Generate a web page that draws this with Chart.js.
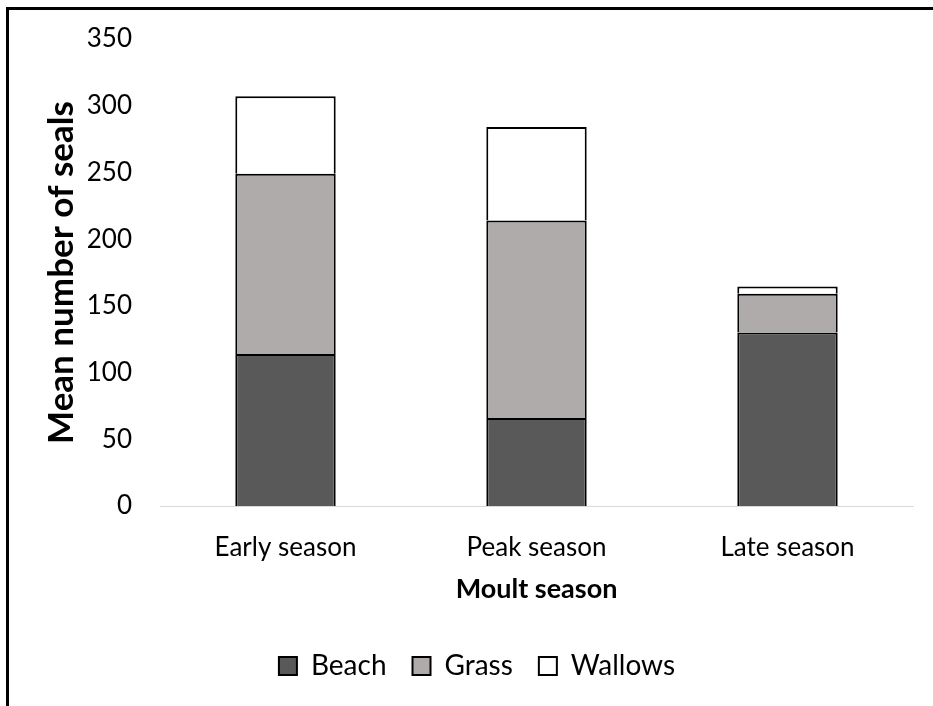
<!DOCTYPE html>
<html>
<head>
<meta charset="utf-8">
<script src="https://cdn.jsdelivr.net/npm/chart.js@4.4.0/dist/chart.umd.min.js"></script>
<style>
  body { margin: 0; background: #fff; }
  #wrap { position: relative; width: 933px; height: 706px; }
  #frame { position: absolute; left: 6px; top: 7px; right: 0; bottom: 0;
           border-left: 3px solid #000; border-top: 3px solid #000; pointer-events: none; }
</style>
</head>
<body>
<div id="wrap">
  <canvas id="myChart" width="933" height="706"></canvas>
  <div id="frame"></div>
</div>
<script>
// Datos del gráfico
var seasons = ["Early season", "Peak season", "Late season"];
var beach = [114, 66, 130];
var grass = [135, 148, 29];
var wallows = [58, 70, 5.5];

var fontFamily = "Lato, 'Open Sans', sans-serif";

var ctx = document.getElementById("myChart").getContext("2d");
var myChart = new Chart(ctx, {
  type: "bar",
  data: {
    labels: seasons,
    datasets: [
      { label: "Beach", data: beach, backgroundColor: "#595959", borderColor: "#000", borderWidth: 2 },
      { label: "Grass", data: grass, backgroundColor: "#AFABAB", borderColor: "#000", borderWidth: 2 },
      { label: "Wallows", data: wallows, backgroundColor: "#FFFFFF", borderColor: "#000", borderWidth: 2 }
    ]
  },
  options: {
    responsive: false,
    animation: false,
    layout: { padding: { left: 41, right: 20, top: 39, bottom: 16 } },
    datasets: { bar: { categoryPercentage: 0.4, barPercentage: 1.0 } },
    scales: {
      x: {
        stacked: true,
        grid: { display: false },
        border: { display: true, color: "#d9d9d9", width: 1 },
        ticks: { color: "#000", font: { family: fontFamily, size: 26 }, padding: 18 },
        title: { display: true, text: "Moult season", color: "#000",
                 font: { family: fontFamily, size: 27, weight: "bold" }, padding: { top: 0, bottom: 21 } },
        afterFit: function (scale) { scale.height = 120; }
      },
      y: {
        stacked: true,
        min: 0,
        max: 350,
        grid: { display: false },
        border: { display: false },
        ticks: { stepSize: 50, color: "#000", font: { family: fontFamily, size: 26 }, padding: 20 },
        title: { display: true, text: "Mean number of seals", color: "#000",
                 font: { family: fontFamily, size: 35, weight: "bold" }, padding: 0 },
        afterFit: function (scale) { scale.width = 119; }
      }
    },
    plugins: {
      legend: {
        position: "bottom",
        labels: { color: "#000", font: { family: fontFamily, size: 28 },
                  boxWidth: 18, boxHeight: 18, padding: 26 }
      },
      tooltip: { enabled: false }
    }
  }
});
</script>
</body>
</html>
